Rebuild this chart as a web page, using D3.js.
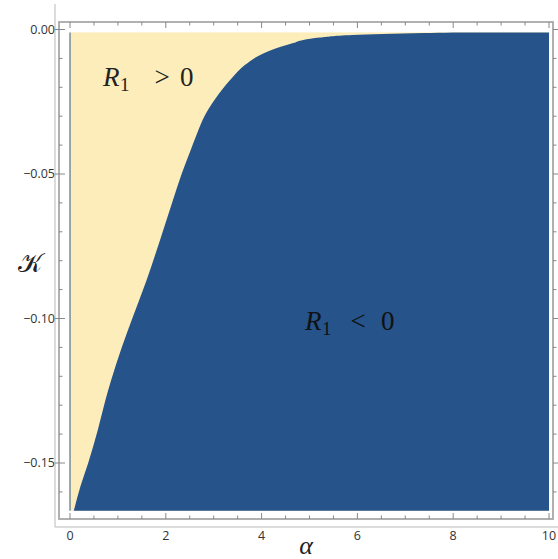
<!DOCTYPE html>
<html><head><meta charset="utf-8">
<script src="https://cdn.jsdelivr.net/npm/d3@7"></script>
<style>body{margin:0;background:#fff}svg{display:block}</style>
</head><body>
<svg id="c" width="558" height="559"></svg>
<script>
// Boundary between regions R1>0 (left/top) and R1<0 (right/bottom)
const boundaryK     = [-0.1665,-0.158,-0.15,-0.1386,-0.1282,-0.1213,-0.11,-0.10,-0.0867,-0.0728,-0.059,-0.05,-0.0417,-0.0365,-0.0296,-0.0227,-0.0168,-0.0123,-0.0088,-0.0064,-0.0047,-0.0036,-0.0028,-0.0019,-0.0012,-0.001];
const boundaryAlpha = [0.08,0.22,0.38,0.58,0.74,0.86,1.08,1.30,1.60,1.88,2.15,2.33,2.52,2.64,2.82,3.09,3.38,3.65,3.97,4.32,4.66,4.87,5.22,5.90,7.40,8.00];
const xTicks = [0,2,4,6,8,10];
const yTicks = [0,-0.05,-0.10,-0.15];
const alphaDomain = [0,10];
const kDomain = [-0.1665,-0.001];

const svg = d3.select("#c");
const x = d3.scaleLinear().domain([0,10]).range([70,549]);
const y = d3.scaleLinear().domain([0,-0.05]).range([29.5,174]);

const cream = "#fcedba", blue = "#25538a", frameCol = "#a8a8a8";

// extra outer lines (as in reference)
svg.append("line").attr("x1",55).attr("x2",55).attr("y1",4).attr("y2",527).attr("stroke","#d0d0d0").attr("stroke-width",1.5);
svg.append("line").attr("x1",55).attr("x2",558).attr("y1",527).attr("y2",527).attr("stroke","#d0d0d0").attr("stroke-width",1.5);

// cream background region
svg.append("rect").attr("x",x(alphaDomain[0])).attr("y",y(kDomain[1]))
  .attr("width",x(alphaDomain[1])-x(alphaDomain[0])).attr("height",y(kDomain[0])-y(kDomain[1]))
  .attr("fill",cream);

// blue region
const pts = boundaryK.map((k,i)=>({k, a:boundaryAlpha[i]}));
pts.push({k:kDomain[1], a:boundaryAlpha[boundaryAlpha.length-1]});
const area = d3.area().curve(d3.curveMonotoneY)
  .y(d=>y(d.k)).x0(d=>x(d.a)).x1(x(alphaDomain[1]));
svg.append("path").datum(pts).attr("d",area).attr("fill",blue);
svg.append("line").attr("x1",x(0)).attr("x2",x(0)).attr("y1",y(kDomain[1])).attr("y2",y(kDomain[0]))
  .attr("stroke",blue).attr("stroke-width",1.2).attr("opacity",0.8);

// frame
const L=59,T=22,R=553,B=519;
svg.append("rect").attr("x",L).attr("y",T).attr("width",R-L).attr("height",B-T)
  .attr("fill","none").attr("stroke",frameCol).attr("stroke-width",1.8);

const g = svg.append("g").attr("stroke","#888").attr("stroke-width",1);
// x ticks
d3.range(0,10.001,0.5).forEach(v=>{
  const major = Math.abs(v%2)<1e-9;
  const len = major?6:3.5;
  g.append("line").attr("x1",x(v)).attr("x2",x(v)).attr("y1",B).attr("y2",B-len);
  g.append("line").attr("x1",x(v)).attr("x2",x(v)).attr("y1",T).attr("y2",T+len);
});
// y ticks
d3.range(0,17).forEach(i=>{
  const v=-i*0.01;
  const major = i%5===0;
  const len = major?6:3.5;
  g.append("line").attr("y1",y(v)).attr("y2",y(v)).attr("x1",major?L-4:L).attr("x2",L+len);
  g.append("line").attr("y1",y(v)).attr("y2",y(v)).attr("x1",R).attr("x2",R+(major?5:3.5));
});

// tick labels
const lab = svg.append("g").attr("font-family","Open Sans, Noto Sans, sans-serif").attr("font-size",12.5).attr("fill","#333");
xTicks.forEach(v=>lab.append("text").attr("x",x(v)).attr("y",540).attr("text-anchor","middle").text(d3.format("d")(v)));
yTicks.forEach(v=>lab.append("text").attr("x",55).attr("y",y(v)+4).attr("text-anchor","end").text(d3.format(".2f")(v)));

// axis titles
const serif = "Liberation Serif, DejaVu Serif, serif";
svg.append("text").attr("x",306).attr("y",554).attr("text-anchor","middle").attr("font-family",serif)
  .attr("font-style","italic").attr("font-size",26).attr("fill","#222").text("α");
svg.append("text").attr("x",30).attr("y",272).attr("text-anchor","middle").attr("font-family","DejaVu Serif, serif")
  .attr("font-size",26).attr("fill","#222").text("𝒦");

// region labels
function rlabel(x0, base, rel, xr, x0z, col){
  const t = svg.append("g").attr("font-family",serif).attr("fill",col);
  t.append("text").attr("x",x0).attr("y",base).attr("font-style","italic").attr("font-size",27).text("R");
  t.append("text").attr("x",x0+17).attr("y",base+5).attr("font-size",19).text("1");
  t.append("text").attr("x",xr).attr("y",base).attr("font-size",27).attr("text-anchor","middle").text(rel);
  t.append("text").attr("x",x0z).attr("y",base).attr("font-size",27).text("0");
}
rlabel(103, 86, ">", 162, 180, "#222");
rlabel(305, 330, "<", 358, 381, "#111");
</script>
</body></html>
